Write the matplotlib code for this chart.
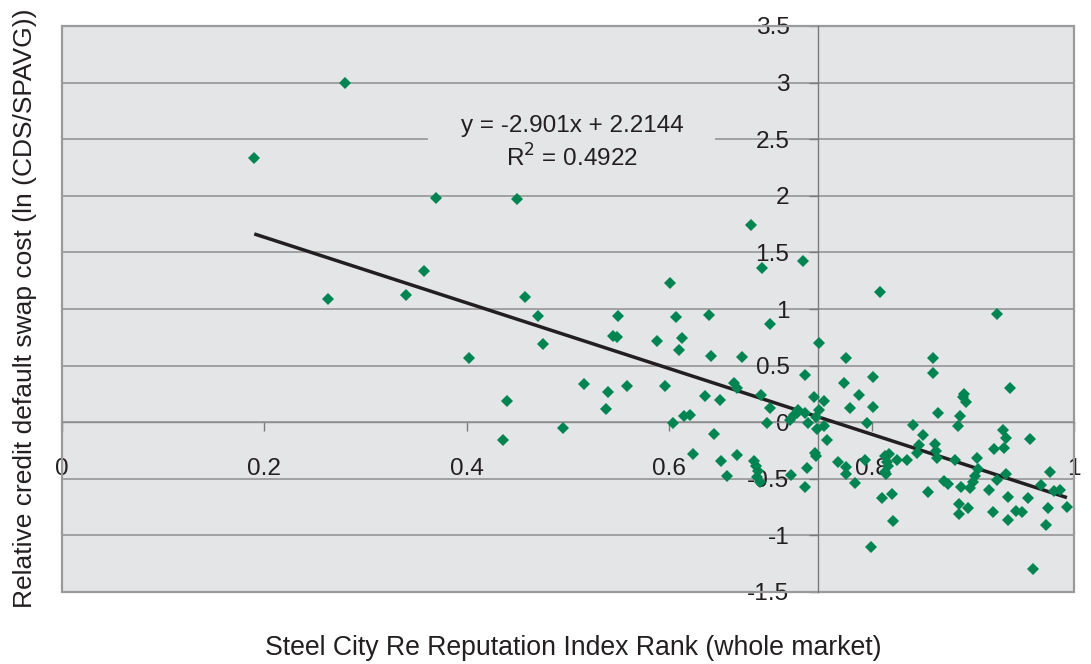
import matplotlib
matplotlib.use("Agg")
import matplotlib.pyplot as plt
from matplotlib.patches import Rectangle
from matplotlib.ticker import FuncFormatter

# reputation index rank (whole market)
rank = [0.190, 0.280, 0.263, 0.340, 0.358, 0.370, 0.402, 0.440, 0.436, 0.450,
        0.458, 0.470, 0.475, 0.495, 0.516, 0.538, 0.540, 0.544, 0.548, 0.549,
        0.558, 0.588, 0.596, 0.601, 0.604, 0.607, 0.610, 0.613, 0.615, 0.621,
        0.624, 0.635, 0.639, 0.641, 0.644, 0.650, 0.651, 0.657, 0.664, 0.667,
        0.667, 0.672, 0.681, 0.684, 0.686, 0.688, 0.687, 0.690, 0.691, 0.692,
        0.697, 0.700, 0.700, 0.719, 0.720, 0.723, 0.726, 0.727, 0.732, 0.734,
        0.734, 0.736, 0.734, 0.737, 0.743, 0.744, 0.745, 0.745, 0.746, 0.748,
        0.748, 0.753, 0.753, 0.756, 0.767, 0.773, 0.775, 0.775, 0.775, 0.779,
        0.784, 0.788, 0.793, 0.795, 0.799, 0.801, 0.801, 0.808, 0.810, 0.813,
        0.817, 0.815, 0.816, 0.813, 0.814, 0.820, 0.821, 0.825, 0.835, 0.841,
        0.845, 0.847, 0.851, 0.856, 0.861, 0.861, 0.863, 0.864, 0.865, 0.866,
        0.872, 0.875, 0.882, 0.885, 0.886, 0.886, 0.887, 0.888, 0.890, 0.891,
        0.893, 0.895, 0.897, 0.900, 0.902, 0.904, 0.905, 0.916, 0.920, 0.921,
        0.924, 0.924, 0.930, 0.931, 0.933, 0.933, 0.935, 0.935, 0.937, 0.943,
        0.949, 0.955, 0.957, 0.959, 0.967, 0.972, 0.974, 0.976, 0.980, 0.986,
        0.993]

# relative CDS cost ln(CDS/SPAVG)
cds = [2.33, 3.00, 1.09, 1.12, 1.34, 1.98, 0.565, 0.185, -0.16, 1.97,
       1.11, 0.94, 0.69, -0.05, 0.34, 0.12, 0.265, 0.76, 0.75, 0.935,
       0.32, 0.715, 0.32, 1.23, -0.01, 0.93, 0.64, 0.745, 0.055, 0.06,
       -0.285, 0.235, 0.945, 0.585, -0.10, 0.195, -0.345, -0.475, 0.35, 0.30,
       -0.29, 0.575, 1.74, -0.345, -0.39, -0.435, -0.485, -0.53, 0.24, 1.36,
       -0.01, 0.125, 0.865, 0.018, -0.47, 0.062, 0.08, 0.106, 1.42, 0.415,
       0.08, -0.405, -0.575, -0.01, 0.22, -0.275, -0.30, 0.045, -0.06, 0.105,
       0.70, 0.185, -0.035, -0.16, -0.35, 0.345, 0.565, -0.395, -0.46, 0.125,
       -0.54, 0.24, -0.335, -0.01, -1.10, 0.40, 0.13, 1.15, -0.67, -0.30,
       -0.28, -0.35, -0.39, -0.44, -0.46, -0.635, -0.875, -0.335, -0.335, -0.025,
       -0.27, -0.20, -0.11, -0.62, 0.565, 0.435, -0.195, -0.255, -0.32, 0.08,
       -0.52, -0.55, -0.335, -0.035, -0.725, -0.81, 0.053, -0.575, 0.22, 0.245,
       0.18, -0.76, -0.58, -0.53, -0.475, -0.32, -0.415, -0.60, -0.795, -0.24,
       0.96, -0.51, -0.065, -0.23, -0.14, -0.46, -0.665, -0.865, 0.30, -0.785,
       -0.795, -0.67, -0.15, -1.30, -0.555, -0.91, -0.76, -0.44, -0.61, -0.60,
       -0.75]

# linear trend as printed on the chart
slope = -2.901
intercept = 2.2144
r_squared = 0.4922

x_ticks = [0, 0.2, 0.4, 0.6, 0.8, 1.0]
y_ticks = [-1.5, -1.0, -0.5, 0, 0.5, 1.0, 1.5, 2.0, 2.5, 3.0, 3.5]

plt.rcParams['font.family'] = ['Liberation Sans', 'DejaVu Sans']
txt = '#231f20'
grey = '#8e8e8e'
bg = '#e4e5e7'

fig = plt.figure(figsize=(10.91, 6.64), dpi=100)
ax = fig.add_axes([62 / 1091, 1 - 592 / 664, 1012 / 1091, 566 / 664])
ax.set_facecolor(bg)
ax.set_xlim(0, 1)
ax.set_ylim(-1.5, 3.5)

ax.set_axisbelow(True)
ax.yaxis.grid(True, color=grey, lw=1.1)
ax.xaxis.grid(False)

# frame round the plot area
ax.add_patch(Rectangle((0, 0), 1, 1, transform=ax.transAxes, fill=False,
                       edgecolor='#9a9a9a', lw=1.6, zorder=2.5, clip_on=False))

for s in ['top', 'right']:
    ax.spines[s].set_visible(False)
ax.spines['left'].set_position(('data', 0.747))
ax.spines['bottom'].set_position(('data', 0))
ax.spines['left'].set_color('#7a7a7a')
ax.spines['bottom'].set_color(grey)
ax.spines['left'].set_linewidth(1.0)
ax.spines['bottom'].set_linewidth(1.0)

ax.set_xticks(x_ticks)
ax.set_yticks(y_ticks)
fmt = FuncFormatter(lambda v, p: f'{v:g}')
ax.xaxis.set_major_formatter(fmt)
ax.yaxis.set_major_formatter(fmt)
ax.tick_params(axis='both', direction='out', length=6.5, width=1.0,
               color='#7a7a7a', labelcolor=txt, labelsize=17.6)
ax.tick_params(axis='x', pad=19.5)
ax.tick_params(axis='y', pad=14)

# equation box hides the gridline behind it
ax.add_patch(Rectangle((0.362, 2.3), 0.283, 0.45, facecolor=bg,
                       edgecolor='none', zorder=1))
ax.text(0.504, 2.465, f'y = {slope}x + {intercept}\nR$^2$ = {r_squared}',
        ha='center', va='center', fontsize=17.5, color=txt,
        linespacing=1.36, zorder=4)

x_fit = [min(rank), max(rank)]
y_fit = [slope * v + intercept for v in x_fit]
ax.plot(x_fit, y_fit, color=txt, lw=2.5, zorder=3, solid_capstyle='butt')

ax.plot(rank, cds, linestyle='none', marker='D', ms=6, mew=0,
        color='#008552', zorder=4)

fig.text(573 / 1091, 1 - 648 / 664,
         'Steel City Re Reputation Index Rank (whole market)',
         ha='center', va='center', fontsize=19.2, color=txt)
fig.text(25 / 1091, 1 - 308 / 664,
         'Relative credit default swap cost (ln (CDS/SPAVG))',
         ha='center', va='center', rotation=90, fontsize=19, color=txt)

fig.savefig('out.png', dpi=100, facecolor='white')
